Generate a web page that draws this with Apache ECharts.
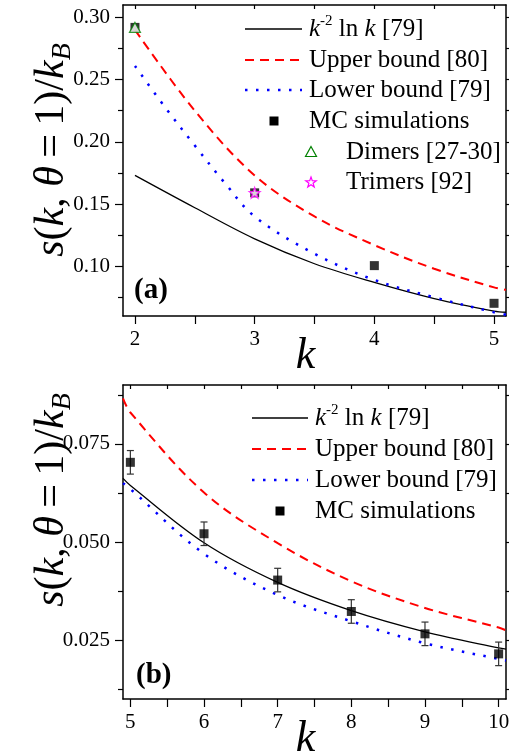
<!DOCTYPE html>
<html>
<head>
<meta charset="utf-8">
<script src="https://cdn.jsdelivr.net/npm/echarts@6/dist/echarts.min.js"></script>
<style>
html, body { margin: 0; padding: 0; background: #fff; }
#chart { width: 517px; height: 752px; }
</style>
</head>
<body>
<div id="chart"></div>
<script>
// panel (a)
const kTop = [2, 2.5, 3, 3.5, 4, 4.5, 5, 5.1];
const lnTop = [0.173, 0.147, 0.122, 0.102, 0.087, 0.074, 0.064, 0.063];
const upperTop = [0.290, 0.225, 0.173, 0.140, 0.117, 0.098, 0.083, 0.081];
const kLowTop = [2, 2.25, 2.5, 2.75, 3, 3.5, 4, 4.5, 5, 5.1];
const lowerTop = [0.261, 0.228, 0.197, 0.167, 0.140, 0.110, 0.089, 0.075, 0.063, 0.061];
const kMcTop = [2, 3, 4, 5];
const mcTop = [0.292, 0.159, 0.1005, 0.0702];
const kDimers = [2];
const dimers = [0.292];
const kTrimers = [3];
const trimers = [0.159];

// panel (b)
const kBot = [4.9, 5, 6, 7, 8, 9, 10, 10.1];
const lnBot = [0.0662, 0.0644, 0.0498, 0.0397, 0.0325, 0.0271, 0.0230, 0.0227];
const upperBot = [0.0866, 0.0830, 0.0626, 0.0497, 0.0400, 0.0332, 0.0282, 0.0275];
const lowerBot = [0.0650, 0.0635, 0.0470, 0.0365, 0.0298, 0.0242, 0.0202, 0.0198];
const kMcBot = [5, 6, 7, 8, 9, 10];
const mcBot = [0.0703, 0.0521, 0.0403, 0.0323, 0.0266, 0.0215];
const errBot = [0.003, 0.003, 0.003, 0.003, 0.003, 0.003];

// ticks
const topXTicks = [2, 2.5, 3, 3.5, 4, 4.5, 5];
const topXLabels = [2, 3, 4, 5];
const topYLabels = [0.10, 0.15, 0.20, 0.25, 0.30];
const topYMinor = [0.075, 0.125, 0.175, 0.225, 0.275];
const botXTicks = [5, 5.5, 6, 6.5, 7, 7.5, 8, 8.5, 9, 9.5, 10];
const botXLabels = [5, 6, 7, 8, 9, 10];
const botYLabels = [0.025, 0.050, 0.075];
const botYMinor = [0.0125, 0.0375, 0.0625, 0.0875];

const FONT = '"Liberation Serif", "Times New Roman", serif';
const pairs = (xs, ys) => xs.map((x, i) => [x, ys[i]]);

function starPoints(cx, cy, R) {
  const pts = [];
  for (let i = 0; i < 10; i++) {
    const r = i % 2 ? R * 0.4 : R;
    const a = -Math.PI / 2 + i * Math.PI / 5;
    pts.push([cx + r * Math.cos(a), cy + r * Math.sin(a)]);
  }
  return pts;
}
const starSymbol = 'path://' + starPoints(50, 50, 50)
  .map((p, i) => (i ? 'L' : 'M') + p[0].toFixed(2) + ' ' + p[1].toFixed(2)).join(' ') + ' Z';

const axisLine = { show: true, lineStyle: { color: '#000', width: 1.5 } };
const tickStyle = { color: '#000', width: 1.2 };
const labelStyle = { color: '#000', fontFamily: FONT, fontSize: 21 };

function xAxes(grid, min, max, ticks, labels) {
  return [
    {
      type: 'value', gridIndex: grid, position: 'bottom', min: min, max: max,
      axisLine: axisLine, splitLine: { show: false },
      axisTick: { customValues: ticks, length: 8, lineStyle: tickStyle },
      axisLabel: Object.assign({ customValues: labels, margin: 13 }, labelStyle),
      name: 'k', nameLocation: 'middle', nameGap: 18, nameMoveOverlap: false,
      nameTextStyle: { fontFamily: FONT, fontStyle: 'italic', fontSize: 44, color: '#000',
        verticalAlign: 'top', padding: [0, 18, 0, 0] }
    },
    {
      type: 'value', gridIndex: grid, position: 'top', min: min, max: max,
      axisLine: axisLine, splitLine: { show: false },
      axisTick: { customValues: ticks, inside: true, length: 4, lineStyle: tickStyle },
      axisLabel: { show: false }
    }
  ];
}

function yAxes(grid, min, max, labels, minor, digits) {
  return [
    {
      type: 'value', gridIndex: grid, position: 'left', min: min, max: max,
      axisLine: axisLine, splitLine: { show: false },
      axisTick: { customValues: labels, length: 8, lineStyle: tickStyle },
      axisLabel: Object.assign({ customValues: labels, margin: 13,
        formatter: v => v.toFixed(digits) }, labelStyle)
    },
    {
      type: 'value', gridIndex: grid, position: 'left', min: min, max: max,
      axisLine: { show: false }, splitLine: { show: false },
      axisTick: { customValues: minor, length: 5, lineStyle: tickStyle },
      axisLabel: { show: false }
    },
    {
      type: 'value', gridIndex: grid, position: 'right', min: min, max: max,
      axisLine: axisLine, splitLine: { show: false },
      axisTick: { customValues: labels.concat(minor), length: 3, lineStyle: tickStyle },
      axisLabel: { show: false }
    }
  ];
}

function lineSeries(name, xi, yi, data, color, width, type) {
  return {
    name: name, type: 'line', xAxisIndex: xi, yAxisIndex: yi, data: data,
    smooth: 0.35, showSymbol: false, symbol: 'none', silent: true,
    lineStyle: { color: color, width: width, type: type, cap: 'butt' }, z: 3
  };
}

const errorBars = {
  type: 'custom', xAxisIndex: 2, yAxisIndex: 3, silent: true, z: 4,
  data: kMcBot.map((k, i) => [k, mcBot[i] - errBot[i], mcBot[i] + errBot[i]]),
  renderItem: function (params, api) {
    const lo = api.coord([api.value(0), api.value(1)]);
    const hi = api.coord([api.value(0), api.value(2)]);
    const w = 3.5;
    const st = { stroke: '#333', lineWidth: 1.2 };
    return {
      type: 'group',
      children: [
        { type: 'line', shape: { x1: lo[0], y1: lo[1], x2: hi[0], y2: hi[1] }, style: st },
        { type: 'line', shape: { x1: lo[0] - w, y1: lo[1], x2: lo[0] + w, y2: lo[1] }, style: st },
        { type: 'line', shape: { x1: hi[0] - w, y1: hi[1], x2: hi[0] + w, y2: hi[1] }, style: st }
      ]
    };
  }
};

// legend drawn by hand (graphic)
const legendFont = { fontFamily: FONT, fontSize: 25, fill: '#000', verticalAlign: 'middle' };
const legRich = {
  i: { fontFamily: FONT, fontSize: 25, fontStyle: 'italic', lineHeight: 30 },
  n: { fontFamily: FONT, fontSize: 25, lineHeight: 30 },
  sup: { fontFamily: FONT, fontSize: 15, lineHeight: 30, verticalAlign: 'top', padding: [0, 0, 12, 0] }
};
function legText(x, y, text) {
  return { type: 'text', x: x, y: y, z: 100, style: Object.assign({ text: text }, legendFont) };
}
function legLn(x, y) {
  return { type: 'text', x: x, y: y, z: 100,
    style: Object.assign({ text: '{i|k}{sup|-2}{n| ln }{i|k}{n| [79]}', rich: legRich }, legendFont) };
}
function legLine(x1, x2, y, color, width, dash) {
  return { type: 'line', z: 100, shape: { x1: x1, y1: y, x2: x2, y2: y },
    style: { stroke: color, lineWidth: width, lineDash: dash } };
}
function legSquare(cx, cy) {
  return { type: 'rect', z: 100, shape: { x: cx - 4.5, y: cy - 4.5, width: 9, height: 9 }, style: { fill: '#000' } };
}

const yRich = {
  i: { fontFamily: FONT, fontSize: 42, fontStyle: 'italic', lineHeight: 50 },
  n: { fontFamily: FONT, fontSize: 42, lineHeight: 50 },
  sub: { fontFamily: FONT, fontSize: 28, fontStyle: 'italic', lineHeight: 28, verticalAlign: 'bottom' }
};
function yName(cx, cy) {
  return { type: 'text', x: cx, y: cy, rotation: Math.PI / 2, z: 100,
    style: { text: '{i|s}{n|(}{i|k}{n|, }{i|θ}{n|\u2009=\u20091)/}{i|k}{sub|B}', rich: yRich,
      align: 'center', verticalAlign: 'middle', fill: '#000' } };
}
function panelTag(x, y, t) {
  return { type: 'text', x: x, y: y, z: 100,
    style: { text: t, fontFamily: FONT, fontSize: 29, fontWeight: 'bold', fill: '#000', verticalAlign: 'middle' } };
}

const graphic = [
  yName(52, 150), yName(52, 500),
  panelTag(134, 291, '(a)'), panelTag(136, 676, '(b)'),
  // (a) legend
  legLine(245, 302, 29, '#000', 1.3, null), legLn(309, 29),
  legLine(245, 302, 60, '#ff0000', 2, [9, 6]), legText(309, 60, 'Upper bound [80]'),
  legLine(245, 302, 90, '#0000ff', 2.5, [2.5, 8.5]), legText(309, 90, 'Lower bound [79]'),
  legSquare(274, 121), legText(309, 121, 'MC simulations'),
  { type: 'polygon', z: 100, shape: { points: [[311, 146.5], [316.5, 156.5], [305.5, 156.5]] },
    style: { fill: '#fff', stroke: '#008000', lineWidth: 1.2 } },
  legText(346, 152, 'Dimers [27-30]'),
  { type: 'polygon', z: 100, shape: { points: starPoints(311, 182.5, 5.5) },
    style: { fill: '#fff', stroke: '#ff00ff', lineWidth: 1.2 } },
  legText(346, 182, 'Trimers [92]'),
  // (b) legend
  legLine(252, 308, 418, '#000', 1.3, null), legLn(315, 418),
  legLine(252, 308, 449, '#ff0000', 2, [9, 6]), legText(315, 449, 'Upper bound [80]'),
  legLine(252, 308, 480, '#0000ff', 2.5, [2.5, 8.5]), legText(315, 480, 'Lower bound [79]'),
  legSquare(280, 511), legText(315, 511, 'MC simulations')
];

const chart = echarts.init(document.getElementById('chart'), null, { renderer: 'canvas' });
chart.setOption({
  backgroundColor: '#fff',
  animation: false,
  grid: [
    { left: 123, top: 5, width: 383, height: 311, outerBoundsMode: 'none', containLabel: false },
    { left: 123, top: 385, width: 383, height: 314, outerBoundsMode: 'none', containLabel: false }
  ],
  xAxis: xAxes(0, 1.9, 5.1, topXTicks, topXLabels).concat(xAxes(1, 4.9, 10.1, botXTicks, botXLabels)),
  yAxis: yAxes(0, 0.06, 0.31, topYLabels, topYMinor, 2).concat(yAxes(1, 0.01, 0.09, botYLabels, botYMinor, 3)),
  graphic: graphic,
  series: [
    lineSeries('ln', 0, 0, pairs(kTop, lnTop), '#000', 1.3, 'solid'),
    lineSeries('upper', 0, 0, pairs(kTop, upperTop), '#ff0000', 2, [9, 6]),
    lineSeries('lower', 0, 0, pairs(kLowTop, lowerTop), '#0000ff', 2.5, [2.5, 8.5]),
    { name: 'MC', type: 'scatter', xAxisIndex: 0, yAxisIndex: 0, data: pairs(kMcTop, mcTop),
      symbol: 'rect', symbolSize: 9, itemStyle: { color: '#000' }, z: 5, silent: true },
    { name: 'Dimers', type: 'scatter', xAxisIndex: 0, yAxisIndex: 0, data: pairs(kDimers, dimers),
      symbol: 'triangle', symbolSize: [11, 10], itemStyle: { color: '#fff', borderColor: '#008000', borderWidth: 1.2 }, z: 6, silent: true },
    { name: 'Trimers', type: 'scatter', xAxisIndex: 0, yAxisIndex: 0, data: pairs(kTrimers, trimers),
      symbol: starSymbol, symbolSize: 11, itemStyle: { color: '#fff', borderColor: '#ff00ff', borderWidth: 1.2 }, z: 6, silent: true },

    lineSeries('ln', 2, 3, pairs(kBot, lnBot), '#000', 1.3, 'solid'),
    lineSeries('upper', 2, 3, pairs(kBot, upperBot), '#ff0000', 2, [9, 6]),
    lineSeries('lower', 2, 3, pairs(kBot, lowerBot), '#0000ff', 2.5, [2.5, 8.5]),
    errorBars,
    { name: 'MC', type: 'scatter', xAxisIndex: 2, yAxisIndex: 3, data: pairs(kMcBot, mcBot),
      symbol: 'rect', symbolSize: 9, itemStyle: { color: '#000' }, z: 5, silent: true }
  ]
});
</script>
</body>
</html>
